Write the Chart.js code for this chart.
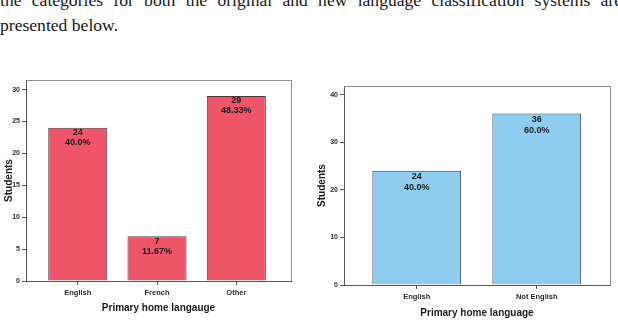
<!DOCTYPE html>
<html>
<head>
<meta charset="utf-8">
<script src="https://cdn.jsdelivr.net/npm/chart.js"></script>
<style>
  body { margin: 0; background: #fff; width: 618px; height: 325px; overflow: hidden; position: relative; }
  .txt { position: absolute; left: 0; font-family: "Liberation Serif", "Times New Roman", serif; font-size: 17.6px; line-height: 25.5px; color: #161616; white-space: nowrap; }
  #line1 { top: -11.6px; }
  #line2 { top: 13.2px; }
  canvas { position: absolute; top: 0; }
</style>
</head>
<body>
<div class="txt" id="line1">the categories for both the original and new language classification systems are</div>
<div class="txt" id="line2">presented below.</div>
<canvas id="chart1" width="300" height="325" style="left:0px"></canvas>
<canvas id="chart2" width="308" height="325" style="left:310px"></canvas>
<script>
// ---- data of the first chart (original classification) ----
const langCategories = ['English', 'French', 'Other'];
const langCounts = [24, 7, 29];
const langPercents = ['40.0%', '11.67%', '48.33%'];
const langTicks = [0, 5, 10, 15, 20, 25, 30];

// ---- data of the second chart (new classification) ----
const newCategories = ['English', 'Not English'];
const newCounts = [24, 36];
const newPercents = ['40.0%', '60.0%'];
const newTicks = [0, 10, 20, 30, 40];

// stretch the first text line so it fills the whole width (justified paragraph)
const line1 = document.getElementById('line1');
const spaces = line1.textContent.split(' ').length - 1;
const natural = line1.getBoundingClientRect().width;
line1.style.wordSpacing = ((622 - natural) / spaces) + 'px';

const FONT = '"Liberation Sans", Arial, sans-serif';

// top and right lines of the box around the plot
const framePlugin = {
  id: 'frame',
  beforeDatasetsDraw(chart) {
    const a = chart.chartArea;
    const ctx = chart.ctx;
    ctx.save();
    ctx.strokeStyle = '#8e8e8e';
    ctx.lineWidth = 1;
    ctx.beginPath();
    ctx.moveTo(a.left, a.top + 0.5);
    ctx.lineTo(a.right + 0.5, a.top + 0.5);
    ctx.lineTo(a.right + 0.5, a.bottom);
    ctx.stroke();
    ctx.restore();
  }
};

// count and percent written inside the top of each bar
const barLabels = {
  id: 'barLabels',
  afterDatasetsDraw(chart, args, opts) {
    const ctx = chart.ctx;
    const meta = chart.getDatasetMeta(0);
    const points = chart.data.datasets[0].data;
    ctx.save();
    ctx.font = 'bold ' + opts.size + 'px ' + FONT;
    ctx.fillStyle = '#1c1c1c';
    ctx.textAlign = 'center';
    ctx.textBaseline = 'middle';
    meta.data.forEach((bar, i) => {
      ctx.fillText(String(points[i].y), bar.x, bar.y + opts.first);
      ctx.fillText(opts.percents[i], bar.x, bar.y + opts.second);
    });
    ctx.restore();
  }
};

function makeChart(id, cats, counts, percents, ticks, s) {
  return new Chart(document.getElementById(id), {
    type: 'bar',
    data: {
      datasets: [{
        data: counts.map((v, i) => ({ x: i + 1, y: v })),
        backgroundColor: s.color,
        borderColor: '#3c3c3c',
        borderWidth: 1,
        categoryPercentage: 1,
        barPercentage: s.barPct
      }]
    },
    options: {
      responsive: false,
      animation: false,
      devicePixelRatio: 1,
      layout: { padding: s.padding },
      plugins: {
        legend: { display: false },
        tooltip: { enabled: false },
        barLabels: { percents: percents, size: 9, first: s.first, second: s.second }
      },
      scales: {
        x: {
          type: 'linear',
          min: s.xMin,
          max: s.xMax,
          bounds: 'data',
          offset: false,
          afterBuildTicks: sc => { sc.ticks = cats.map((c, i) => ({ value: i + 1 })); },
          afterFit: sc => { sc.height = s.xHeight; },
          ticks: {
            callback: (v, i) => cats[i],
            font: { family: FONT, size: 7.5, weight: 'bold' },
            color: '#2a2a2a',
            padding: 3,
            maxRotation: 0,
            autoSkip: false
          },
          grid: { offset: false, drawOnChartArea: false, tickLength: 4, color: '#555' },
          border: { color: '#555' },
          title: {
            display: true,
            text: s.xTitle,
            font: { family: FONT, size: 10, weight: 'bold' },
            color: '#1c1c1c',
            padding: { top: 0, bottom: s.xTitlePad }
          }
        },
        y: {
          min: 0,
          max: s.yMax,
          afterBuildTicks: sc => { sc.ticks = ticks.map(v => ({ value: v })); },
          afterFit: sc => { sc.width = s.yWidth; },
          ticks: {
            font: { family: FONT, size: 7, weight: 'bold' },
            color: '#2a2a2a',
            padding: 2
          },
          grid: { drawOnChartArea: false, tickLength: 4, color: '#555' },
          border: { color: '#555' },
          title: {
            display: true,
            text: 'Students',
            font: { family: FONT, size: 10, weight: 'bold' },
            color: '#1c1c1c',
            padding: { top: s.yTitlePad, bottom: 0 }
          }
        }
      }
    },
    plugins: [framePlugin, barLabels]
  });
}

makeChart('chart1', langCategories, langCounts, langPercents, langTicks, {
  color: '#ef5569',
  barPct: 0.745,
  xMin: 0.347, xMax: 3.69,
  yMax: 31.5,
  padding: { top: 80, right: 9, bottom: 0, left: 0 },
  yWidth: 26, xHeight: 44,
  xTitle: 'Primary home langauge', xTitlePad: 11, yTitlePad: 3,
  first: 5, second: 15
});

makeChart('chart2', newCategories, newCounts, newPercents, newTicks, {
  color: '#8ecdf0',
  barPct: 0.74,
  xMin: 0.394, xMax: 2.61,
  yMax: 41.8,
  padding: { top: 86, right: 8, bottom: 0, left: 0 },
  yWidth: 34, xHeight: 40,
  xTitle: 'Primary home language', xTitlePad: 6, yTitlePad: 6.5,
  first: 6, second: 17
});
</script>
</body>
</html>
